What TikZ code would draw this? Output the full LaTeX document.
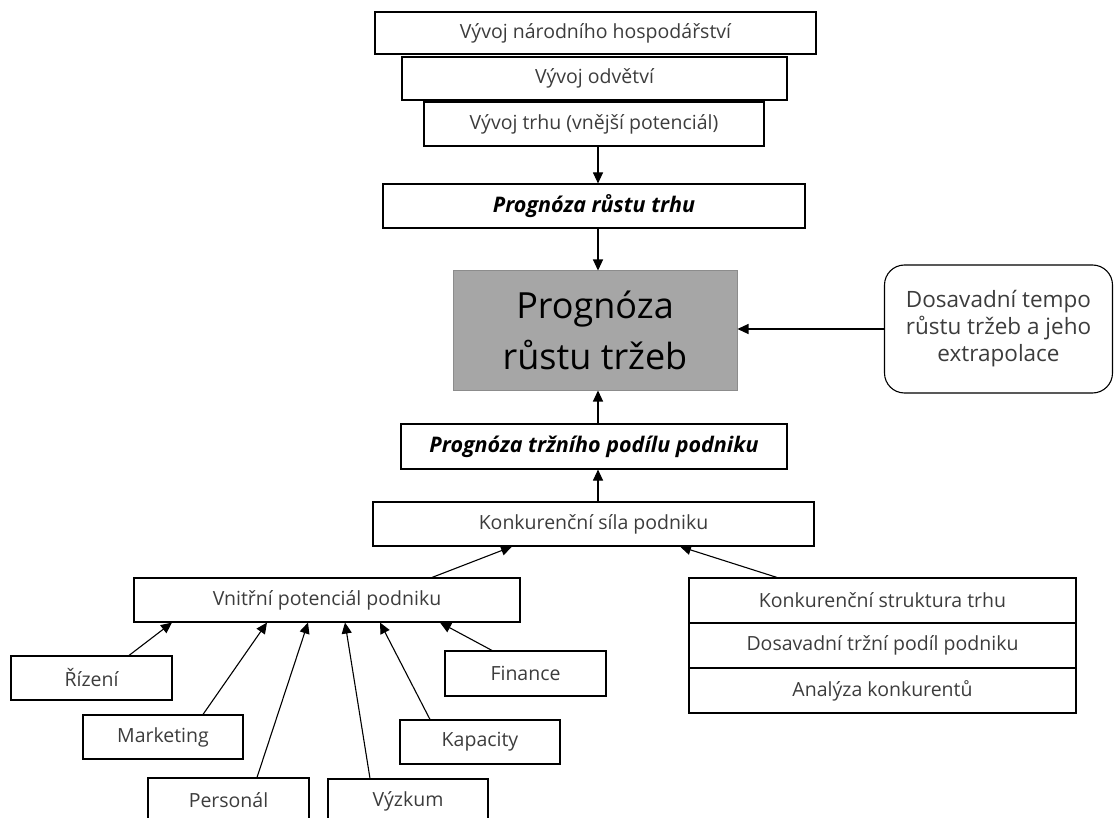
\documentclass[tikz,border=0pt]{standalone}
\usepackage{fontspec}
\setmainfont{Open Sans}
\usetikzlibrary{arrows.meta}
\definecolor{txt}{HTML}{3C3C3C}
\definecolor{boxfill}{HTML}{A6A6A6}
\definecolor{boxedge}{HTML}{8C8C8C}
\begin{document}
\begin{tikzpicture}[x=1pt,y=-1pt,
  box/.style={draw=black, line width=1.1pt, minimum width=#1, minimum height=44pt,
    inner sep=0pt, text=txt, font=\fontsize{19.5}{23}\selectfont},
  keybox/.style={box=#1, text=black, font=\fontsize{21.5}{24}\selectfont\bfseries\itshape},
  mainbox/.style={draw=boxedge, line width=1pt, fill=boxfill, minimum width=284pt,
    minimum height=119pt, inner sep=0pt, align=center, text=black,
    font=\fontsize{36}{51}\selectfont},
  notebox/.style={draw=black, line width=1.1pt, rounded corners=20pt, minimum width=228pt,
    minimum height=128pt, inner sep=0pt, align=center, text=txt,
    font=\fontsize{22.5}{27}\selectfont},
  arr/.style={-{Triangle[length=11pt,width=10pt]}, line width=1.1pt}]
\useasboundingbox (0,0) rectangle (1114,818);
\clip (0,0) rectangle (1114,818);

% external development (top stack)
\node[box=441pt, minimum height=42pt] (econ) at (595.5,33) {Vývoj národního hospodářství};
\node[box=385pt, minimum height=43pt] (branch) at (594.5,78.5) {Vývoj odvětví};
\node[box=340pt] (market) at (594,124) {Vývoj trhu (vnější potenciál)};
\node[keybox=422pt] (mkt) at (594,206) {Prognóza růstu trhu};

% central forecast
\node[mainbox] (sales) at (595,330.5) {Prognóza\\růstu tržeb};
\node[notebox] (hist) at (998.5,329) {Dosavadní tempo\\růstu tržeb a jeho\\extrapolace};

% market share
\node[keybox=386pt, minimum height=45pt] (share) at (594,446.5) {Prognóza tržního podílu podniku};
\node[box=441pt] (comp) at (593.5,524) {Konkurenční síla podniku};

% internal potential
\node[box=386pt] (inner) at (327,600) {Vnitřní potenciál podniku};
\node[box=161pt] (rizeni) at (91.5,678) {Řízení};
\node[box=160pt] (marketing) at (163,737) {Marketing};
\node[box=161pt] (personal) at (228.5,800) {Personál};
\node[box=160pt] (vyzkum) at (408,801) {Výzkum};
\node[box=160pt] (kapacity) at (480,742) {Kapacity};
\node[box=161pt, minimum height=45pt] (finance) at (525.5,673.5) {Finance};

% competition
\node[box=387pt, minimum height=45pt] (struct) at (882.5,600.5) {Konkurenční struktura trhu};
\node[box=387pt, minimum height=45pt] (oldshare) at (882.5,645.5) {Dosavadní tržní podíl podniku};
\node[box=387pt, minimum height=45pt] (rivals) at (882.5,690.5) {Analýza konkurentů};

% connectors
\draw[arr] ([xshift=4pt]market.south) -- ([xshift=4pt]mkt.north);
\draw[arr] ([xshift=4pt]mkt.south) -- ([xshift=3pt]sales.north);
\draw[arr] ([xshift=4pt]share.north) -- ([xshift=3pt]sales.south);
\draw[arr] ([xshift=4.5pt]comp.north) -- ([xshift=4pt]share.south);
\draw[arr] (hist.west) -- (hist.west -| sales.east);
\draw[arr] ([xshift=105pt]inner.north) -- ([xshift=-81.5pt]comp.south);
\draw[arr] ([xshift=-105.5pt]struct.north) -- ([xshift=86.5pt]comp.south);
\draw[arr] ([xshift=37.5pt]rizeni.north) -- ([xshift=-155pt]inner.south);
\draw[arr] ([xshift=40pt]marketing.north) -- ([xshift=-60pt]inner.south);
\draw[arr] ([xshift=28.5pt]personal.north) -- ([xshift=-19pt]inner.south);
\draw[arr] ([xshift=-38pt]vyzkum.north) -- ([xshift=18pt]inner.south);
\draw[arr] ([xshift=-50pt]kapacity.north) -- ([xshift=53pt]inner.south);
\draw[arr] ([xshift=-33.5pt]finance.north) -- ([xshift=113pt]inner.south);
\end{tikzpicture}
\end{document}
